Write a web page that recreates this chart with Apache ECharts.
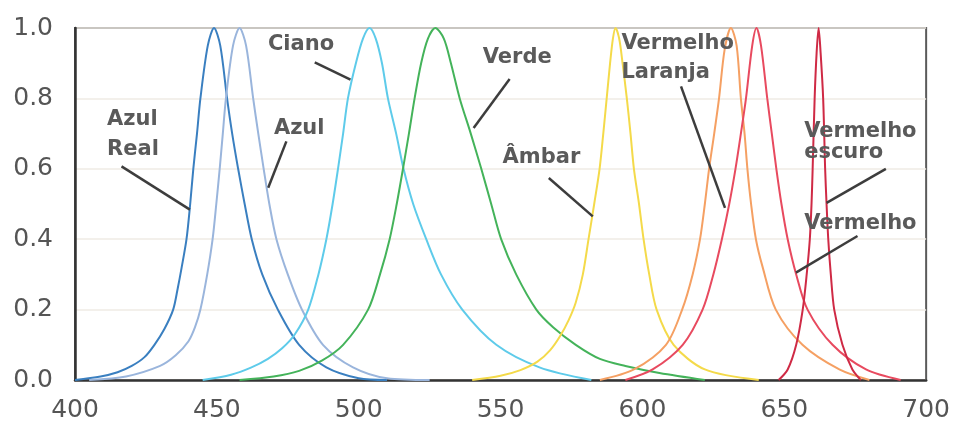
<!DOCTYPE html>
<html>
<head>
<meta charset="utf-8">
<script src="https://cdn.jsdelivr.net/npm/echarts@6/dist/echarts.min.js"></script>
<style>
  html, body { margin: 0; padding: 0; background: #ffffff; }
  #chart { width: 953px; height: 423px; }
</style>
</head>
<body>
<div id="chart"></div>
<script>
// Relative spectral intensity of coloured LEDs against wavelength (nm)
const wavelengthTicks = [400, 450, 500, 550, 600, 650, 700];
const intensityTicks = [0, 0.2, 0.4, 0.6, 0.8, 1.0];

const ledNames = ['Azul Real', 'Azul', 'Ciano', 'Verde', 'Âmbar',
  'Vermelho Laranja', 'Vermelho', 'Vermelho escuro'];

// [wavelength, relative intensity]
const azulReal = [[400, 0], [409, 0.01], [415, 0.022], [420, 0.04], [424.5, 0.065], [428, 0.1],
  [431.5, 0.145], [434.6, 0.2], [436.2, 0.26], [437.6, 0.32], [439.3, 0.4], [440.6, 0.5],
  [441.7, 0.6], [443, 0.7], [444.2, 0.8], [446.8, 0.95], [449, 1], [451.2, 0.95], [453.6, 0.8],
  [455.4, 0.7], [457.5, 0.6], [459.8, 0.5], [462.3, 0.4], [466, 0.3], [471.5, 0.2], [479, 0.1],
  [488.6, 0.036], [500, 0.005], [510, 0]];

const azul = [[405, 0], [418, 0.01], [430, 0.04], [435.5, 0.07], [440, 0.11], [442.3, 0.15],
  [444.2, 0.2], [446.6, 0.3], [448.5, 0.4], [449.8, 0.5], [451, 0.6], [452.1, 0.7], [453.2, 0.8],
  [455.7, 0.95], [458, 1], [460.3, 0.95], [462.8, 0.8], [464.6, 0.7], [466.5, 0.6], [468.5, 0.5],
  [471, 0.4], [475, 0.3], [480, 0.2], [487.4, 0.1], [498, 0.036], [510, 0.005], [525, 0]];

const ciano = [[445, 0], [455, 0.015], [462, 0.035], [468, 0.06], [473, 0.09], [477.5, 0.13],
  [482.2, 0.2], [485.8, 0.3], [488.6, 0.4], [490.8, 0.5], [492.7, 0.6], [494.5, 0.7], [496.2, 0.8],
  [499, 0.9], [501.5, 0.97], [503.8, 1], [506, 0.97], [508.2, 0.9], [510.3, 0.8], [513.2, 0.7],
  [515.8, 0.6], [519.2, 0.5], [523.8, 0.4], [529, 0.3], [536.5, 0.2], [548.5, 0.1],
  [563.7, 0.036], [582, 0]];

const verde = [[458, 0], [470, 0.01], [479, 0.026], [487, 0.055], [494.5, 0.1], [503.3, 0.2],
  [507.5, 0.3], [510.9, 0.4], [513.4, 0.5], [515.6, 0.6], [517.7, 0.7], [519.7, 0.8], [522, 0.9],
  [524.4, 0.97], [527, 1], [530, 0.97], [532.5, 0.9], [535.6, 0.8], [539.5, 0.7], [543.2, 0.6],
  [546.7, 0.5], [550.2, 0.4], [555.5, 0.3], [562.6, 0.2], [568.5, 0.15], [576.5, 0.1], [585, 0.06],
  [594, 0.04], [606, 0.02], [622, 0]];

const ambar = [[540, 0], [550, 0.012], [557, 0.028], [563, 0.052], [567.5, 0.085], [571, 0.125],
  [574, 0.17], [576.5, 0.22], [579, 0.3], [581, 0.4], [583, 0.5], [584.9, 0.6], [586.2, 0.7],
  [587.4, 0.8], [588.6, 0.9], [589.6, 0.97], [590.5, 1], [591.8, 0.97], [593, 0.9], [594.5, 0.8],
  [595.8, 0.7], [597, 0.6], [598.8, 0.5], [600.4, 0.4], [602.4, 0.3], [605, 0.2], [611, 0.1],
  [622, 0.03], [641, 0]];

const vermelhoLaranja = [[585, 0], [597, 0.03], [608.3, 0.1], [614, 0.2], [617.7, 0.3], [620.3, 0.4],
  [622, 0.5], [623.5, 0.6], [625.3, 0.7], [627, 0.8], [629, 0.94], [631.2, 1], [633.2, 0.95],
  [634.7, 0.8], [636, 0.7], [637, 0.6], [638.3, 0.5], [640, 0.4], [642.4, 0.32], [647, 0.2],
  [656.4, 0.1], [669.4, 0.03], [680, 0]];

const vermelho = [[594, 0], [603.6, 0.03], [614.2, 0.1], [621.2, 0.2], [625, 0.3], [628, 0.4],
  [630.6, 0.5], [632.8, 0.6], [634.7, 0.7], [636.5, 0.8], [638.7, 0.95], [640.2, 1], [641.8, 0.95],
  [644, 0.8], [645.6, 0.7], [647.2, 0.6], [649, 0.5], [651.2, 0.4], [654.2, 0.3], [658.2, 0.2],
  [667, 0.1], [678.8, 0.03], [691, 0]];

const vermelhoEscuro = [[648, 0], [651.2, 0.03], [654.2, 0.1], [656.5, 0.2], [657.9, 0.3], [659, 0.4],
  [659.6, 0.5], [660, 0.6], [660.7, 0.8], [661.4, 0.93], [662.1, 1], [662.8, 0.93], [663.7, 0.8],
  [664.4, 0.6], [664.9, 0.5], [665.5, 0.4], [666.4, 0.3], [667.6, 0.2], [670.5, 0.1], [674, 0.03],
  [677, 0]];

const spectra = [azulReal, azul, ciano, verde, ambar, vermelhoLaranja, vermelho, vermelhoEscuro];
const ledColors = ['#3a7fc0', '#9ab5dc', '#5ecbea', '#44b35a', '#f4da4a', '#f5a063', '#e84a5f', '#cf2a45'];

// Callout captions, with text anchor and leader line in data coordinates
const calloutTexts = ['Azul\nReal', 'Azul', 'Ciano', 'Verde', 'Âmbar',
  'Vermelho\nLaranja', 'Vermelho\nescuro', 'Vermelho'];
const calloutLayout = [
  { at: [411.3, 0.697], lh: 30, from: [416.4, 0.607], to: [440.5, 0.484] },
  { at: [470.1, 0.714], lh: 24, from: [474.5, 0.678], to: [468.1, 0.546] },
  { at: [468.0, 0.952], lh: 24, from: [484.5, 0.902], to: [497.1, 0.853] },
  { at: [543.7, 0.915], lh: 24, from: [553.2, 0.855], to: [540.5, 0.716] },
  { at: [550.7, 0.632], lh: 24, from: [567.0, 0.574], to: [582.5, 0.465] },
  { at: [592.6, 0.914], lh: 29, from: [613.6, 0.834], to: [629.1, 0.489] },
  { at: [657.0, 0.676], lh: 21, from: [685.8, 0.600], to: [664.9, 0.503] },
  { at: [657.0, 0.445], lh: 24, from: [675.8, 0.409], to: [654.1, 0.305] }
];

const chart = echarts.init(document.getElementById('chart'), null, { renderer: 'canvas' });

const tickFont = '"DejaVu Sans", sans-serif';

const lineSeries = spectra.map((pts, i) => ({
  name: ledNames[i],
  type: 'line',
  data: pts,
  showSymbol: false,
  smooth: 0.3,
  lineStyle: { color: ledColors[i], width: 2 },
  itemStyle: { color: ledColors[i] },
  z: 3,
  silent: true
}));

const calloutSeries = {
  type: 'custom',
  data: calloutLayout.map(c => c.at),
  encode: { x: 0, y: 1 },
  clip: false,
  silent: true,
  z: 10,
  renderItem(params, api) {
    const c = calloutLayout[params.dataIndex];
    const a = api.coord(c.from);
    const b = api.coord(c.to);
    const t = api.coord(c.at);
    return {
      type: 'group',
      children: [
        {
          type: 'line',
          shape: { x1: a[0], y1: a[1], x2: b[0], y2: b[1] },
          style: { stroke: '#3d3d3d', lineWidth: 2.5, lineCap: 'butt' }
        },
        {
          type: 'text',
          x: t[0],
          y: t[1],
          style: {
            text: calloutTexts[params.dataIndex],
            fill: '#5a5a5a',
            font: 'bold 21px "DejaVu Sans", sans-serif',
            textAlign: 'left',
            textVerticalAlign: 'middle',
            lineHeight: c.lh
          }
        }
      ]
    };
  }
};

chart.setOption({
  animation: false,
  backgroundColor: '#ffffff',
  grid: {
    left: 75, right: 26, top: 28, bottom: 42,
    show: true,
    borderColor: '#5a5a5a',
    borderWidth: 2,
    backgroundColor: '#ffffff'
  },
  xAxis: {
    type: 'value',
    min: wavelengthTicks[0],
    max: wavelengthTicks[wavelengthTicks.length - 1],
    interval: wavelengthTicks[1] - wavelengthTicks[0],
    axisLine: { show: true, lineStyle: { color: '#333333', width: 2.5 } },
    axisTick: { show: false },
    splitLine: { show: false },
    axisLabel: { color: '#555555', fontSize: 25, fontFamily: tickFont, margin: 18 }
  },
  yAxis: {
    type: 'value',
    min: intensityTicks[0],
    max: intensityTicks[intensityTicks.length - 1],
    interval: intensityTicks[1] - intensityTicks[0],
    axisLine: { show: true, lineStyle: { color: '#333333', width: 2.5 } },
    axisTick: { show: false },
    splitLine: { show: true, lineStyle: { color: '#efebe4', width: 1.5 } },
    axisLabel: {
      color: '#555555', fontSize: 25, fontFamily: tickFont, margin: 22,
      formatter: v => v.toFixed(1)
    }
  },
  series: [...lineSeries, calloutSeries]
});
</script>
</body>
</html>
